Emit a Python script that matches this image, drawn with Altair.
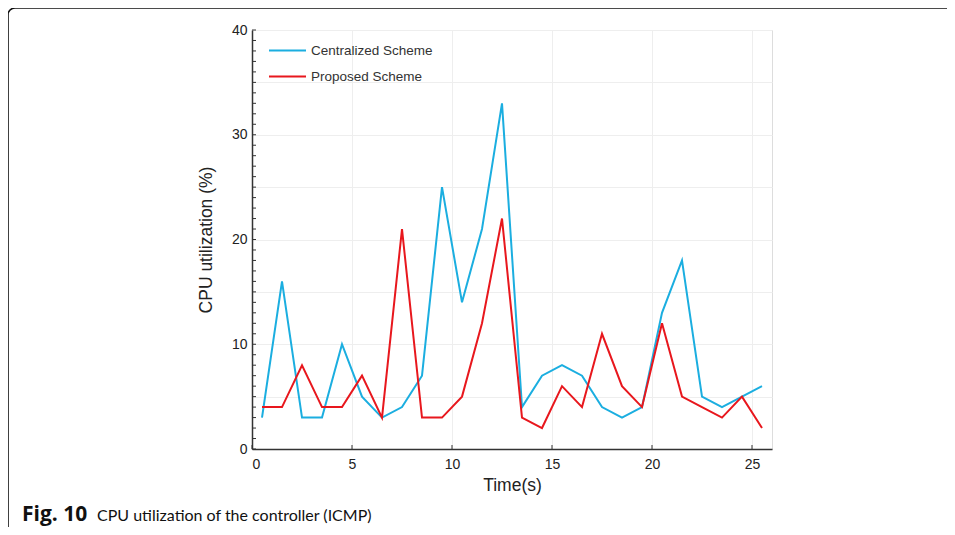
import altair as alt
import pandas as pd

# ---- data ----
time_s = [0.5, 1.5, 2.5, 3.5, 4.5, 5.5, 6.5, 7.5, 8.5, 9.5, 10.5, 11.5, 12.5,
          13.5, 14.5, 15.5, 16.5, 17.5, 18.5, 19.5, 20.5, 21.5, 22.5, 23.5, 24.5, 25.5]
centralized = [3, 16, 3, 3, 10, 5, 3, 4, 7, 25, 14, 21, 33,
               4, 7, 8, 7, 4, 3, 4, 13, 18, 5, 4, 5, 6]
proposed = [4, 4, 8, 4, 4, 7, 3, 21, 3, 3, 5, 12, 22,
            3, 2, 6, 4, 11, 6, 4, 12, 5, 4, 3, 5, 2]
series_names = ["Centralized Scheme", "Proposed Scheme"]
series_colors = ["#1BAEE0", "#E8171D"]
x_ticks = [0, 5, 10, 15, 20, 25]
y_grid = [0, 5, 10, 15, 20, 25, 30, 35, 40]
y_minor = list(range(0, 41))

W, H = 520, 419

df = pd.DataFrame({
    "t": time_s * 2,
    "v": centralized + proposed,
    "s": [series_names[0]] * len(time_s) + [series_names[1]] * len(time_s),
    "o": list(range(len(time_s))) * 2,
})

xs = alt.Scale(domain=[0, 26], nice=False, zero=False)
ys = alt.Scale(domain=[0, 40], nice=False)

AX = "#333333"
FONT = "Liberation Sans"

lines = alt.Chart(df).mark_line(strokeWidth=2).encode(
    x=alt.X("t:Q", scale=xs, title="Time(s)",
            axis=alt.Axis(values=x_ticks, ticks=False, labelPadding=8, titlePadding=5,
                          gridColor="#EEEEEE", gridWidth=1, domainColor=AX, domainWidth=1.5,
                          labelFontSize=14, titleFontSize=17.5, labelColor="#222222",
                          titleColor="#222222", labelFont=FONT, titleFont=FONT,
                          titleFontWeight="normal", format="d")),
    y=alt.Y("v:Q", scale=ys, title="CPU utilization (%)",
            axis=alt.Axis(values=y_grid, ticks=False, labelPadding=5, titlePadding=16,
                          labelExpr="datum.value % 10 == 0 ? datum.label : ''",
                          gridColor="#EEEEEE", gridWidth=1, domainColor=AX, domainWidth=1.5,
                          labelFontSize=14, titleFontSize=17.5, labelColor="#222222",
                          titleColor="#222222", labelFont=FONT, titleFont=FONT,
                          titleFontWeight="normal")),
    color=alt.Color("s:N", scale=alt.Scale(domain=series_names, range=series_colors),
                    legend=alt.Legend(title=None, orient="none", legendX=16, legendY=1,
                                      symbolType="stroke", symbolSize=1369,
                                      symbolStrokeWidth=2, labelFontSize=13.5,
                                      labelFont=FONT, labelColor="#333333",
                                      labelOffset=4, rowPadding=-12, padding=0)),
    order="o:Q",
)

ytick = alt.Chart(pd.DataFrame({"y": y_minor})).mark_rule(color=AX, strokeWidth=1).encode(
    y=alt.Y("y:Q", scale=ys), x=alt.value(0), x2=alt.value(4))

xtick = alt.Chart(pd.DataFrame({"x": x_ticks})).mark_rule(color=AX, strokeWidth=1).encode(
    x=alt.X("x:Q", scale=xs), y=alt.value(H), y2=alt.value(H - 4))

frame = alt.Chart(pd.DataFrame({"a": [0]})).mark_rect(
    fill=None, stroke="#111111", strokeWidth=1.6, cornerRadius=7).encode(
    x=alt.value(-244), x2=alt.value(W + 260), y=alt.value(-22), y2=alt.value(H + 120))

cap_bold = alt.Chart(pd.DataFrame({"c": ["Fig. 10"]})).mark_text(
    font="Open Sans", fontSize=21, fontWeight="bold", align="left", baseline="alphabetic",
    color="#111111").encode(text="c:N", x=alt.value(-230), y=alt.value(H + 72))

cap_text = alt.Chart(pd.DataFrame({"c": ["CPU utilization of the controller (ICMP)"]})).mark_text(
    font="Lato", fontSize=16, align="left", baseline="alphabetic",
    color="#111111").encode(text="c:N", x=alt.value(-155), y=alt.value(H + 72))

chart = alt.layer(frame, lines, ytick, xtick, cap_bold, cap_text).properties(
    width=W, height=H,
    autosize=alt.AutoSizeParams(type="none"),
    padding={"left": 244, "top": 22, "right": 175, "bottom": 78},
).configure_view(stroke=None).configure(background="white")

chart.save("out.html", embed_options={"renderer": "svg", "actions": False})
